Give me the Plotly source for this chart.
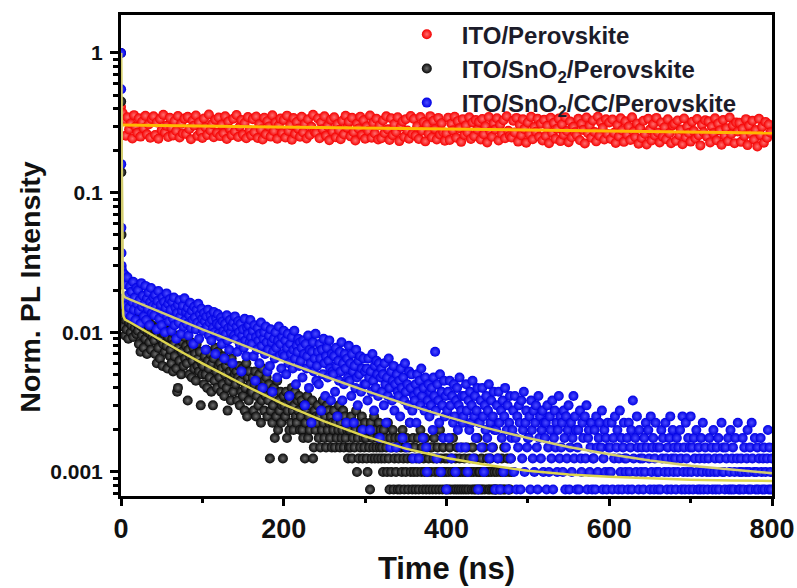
import numpy as np
import plotly.graph_objects as go

# ---------------- data ----------------
# value of one photon count after normalisation
count_unit = 1 / 4000

# ITO/SnO2/CC/Perovskite (blue): instrument peak + counts for t = 1..800 ns (1 ns step)
blue_peak_t = [0, 0.15, 0.3, 0.45, 0.6, 0.8]
blue_peak = [1.0, 0.55, 0.16, 0.056, 0.037, 0.030]
blue_counts = [
    112, 95, 70, 104, 62, 88, 55, 99, 74, 60, 85, 52, 78, 66, 92, 58, 71, 49, 83, 64,
    80, 57, 68, 46, 90, 61, 73, 52, 64, 86, 49, 70, 59, 77, 45, 66, 83, 55, 62, 71,
    53, 74, 61, 42, 67, 79, 50, 58, 63, 45, 71, 55, 66, 40, 60, 76, 52, 64, 48, 69,
    58, 41, 66, 50, 71, 45, 60, 36, 55, 63, 47, 68, 52, 39, 57, 62, 44, 70, 49, 56,
    46, 60, 38, 53, 65, 43, 57, 49, 33, 61, 51, 42, 58, 47, 64, 36, 54, 45, 59, 50,
    41, 55, 48, 30, 52, 44, 58, 38, 47, 53, 35, 49, 43, 56, 40, 28, 50, 46, 54, 39,
    45, 37, 51, 33, 48, 41, 26, 46, 39, 53, 35, 43, 30, 49, 40, 44, 24, 47, 38, 52,
    36, 44, 29, 48, 40, 33, 46, 21, 38, 42, 31, 50, 35, 27, 43, 39, 45, 34, 49, 37,
    33, 41, 27, 45, 18, 37, 30, 43, 35, 24, 39, 47, 32, 16, 36, 40, 28, 44, 34, 21,
    30, 38, 23, 42, 34, 15, 29, 36, 26, 40, 31, 19, 35, 44, 27, 33, 22, 37, 28, 41,
    27, 35, 20, 31, 39, 24, 14, 33, 28, 37, 22, 30, 41, 26, 17, 32, 29, 36, 23, 34,
    25, 31, 19, 35, 28, 12, 33, 22, 27, 38, 16, 30, 24, 9, 29, 34, 21, 26, 39, 18,
    23, 29, 17, 33, 26, 11, 30, 20, 36, 24, 14, 27, 31, 19, 25, 35, 22, 13, 28, 21,
    20, 27, 15, 31, 23, 10, 25, 18, 29, 21, 34, 13, 24, 17, 28, 22, 9, 26, 19, 32,
    18, 24, 14, 28, 21, 9, 23, 16, 30, 19, 12, 25, 20, 27, 15, 22, 8, 26, 17, 21,
    17, 22, 13, 26, 19, 8, 21, 15, 28, 18, 11, 23, 16, 25, 20, 14, 24, 7, 19, 22,
    15, 20, 12, 24, 17, 9, 19, 14, 26, 16, 6, 21, 13, 18, 23, 11, 17, 6, 20, 15,
    14, 18, 10, 22, 16, 7, 19, 13, 24, 15, 6, 17, 12, 21, 9, 16, 20, 11, 5, 14,
    13, 17, 9, 20, 15, 5, 18, 12, 22, 14, 7, 16, 11, 19, 6, 4, 13, 17, 10, 15,
    12, 16, 8, 19, 14, 29, 11, 5, 17, 13, 9, 20, 4, 15, 12, 7, 18, 10, 14, 3,
    11, 15, 7, 18, 12, 5, 14, 9, 17, 10, 4, 13, 16, 8, 12, 19, 6, 11, 14, 9,
    10, 14, 6, 17, 11, 4, 13, 8, 15, 9, 12, 18, 5, 10, 14, 7, 11, 16, 3, 9,
    9, 13, 6, 16, 10, 4, 12, 8, 14, 7, 11, 17, 5, 9, 13, 6, 10, 15, 8, 3,
    8, 12, 5, 15, 9, 3, 11, 7, 13, 4, 10, 16, 6, 8, 12, 3, 9, 14, 5, 7,
    8, 11, 4, 14, 7, 3, 10, 6, 12, 9, 3, 13, 5, 8, 15, 4, 9, 11, 6, 7,
    7, 10, 3, 13, 8, 5, 11, 4, 9, 12, 6, 3, 14, 7, 10, 5, 8, 11, 4, 9,
    7, 9, 3, 12, 6, 4, 10, 8, 5, 13, 3, 7, 11, 6, 9, 4, 8, 14, 5, 10,
    6, 9, 4, 11, 7, 3, 10, 5, 8, 12, 3, 6, 9, 4, 7, 14, 5, 10, 8, 3,
    6, 8, 3, 11, 5, 4, 9, 7, 2, 10, 5, 12, 3, 7, 8, 4, 6, 9, 3, 5,
    5, 8, 3, 10, 6, 4, 7, 9, 2, 6, 11, 3, 5, 8, 4, 7, 3, 9, 6, 4,
    6, 4, 9, 3, 7, 5, 10, 2, 6, 8, 3, 5, 11, 4, 7, 3, 6, 9, 5, 4,
    5, 7, 3, 9, 4, 6, 8, 3, 13, 5, 2, 7, 4, 10, 6, 3, 8, 5, 4, 6,
    5, 3, 7, 4, 9, 6, 2, 8, 5, 3, 10, 4, 6, 7, 3, 5, 9, 4, 6, 3,
    4, 6, 3, 8, 5, 7, 2, 4, 9, 5, 3, 6, 4, 7, 10, 3, 5, 8, 4, 6,
    5, 3, 7, 4, 6, 2, 8, 5, 3, 10, 4, 6, 3, 9, 5, 4, 7, 3, 6, 10,
    4, 6, 3, 7, 5, 2, 8, 4, 3, 6, 5, 3, 7, 4, 9, 3, 5, 6, 2, 4,
    3, 5, 7, 4, 2, 6, 3, 8, 4, 5, 3, 6, 4, 7, 3, 5, 2, 9, 4, 6,
    4, 3, 6, 5, 2, 7, 3, 4, 8, 3, 5, 6, 3, 4, 7, 2, 5, 9, 3, 4,
    3, 5, 4, 7, 3, 6, 2, 4, 5, 8, 3, 4, 6, 3, 9, 5, 2, 4, 7, 3,
    4, 6, 3, 5, 2, 7, 4, 3, 5, 6, 3, 4, 2, 5, 8, 3, 6, 4, 3, 5,
]

# ITO/SnO2/Perovskite (black): instrument peak + counts for t = 1..480 ns (1 ns step)
black_peak_t = [0, 0.2, 0.4, 0.6, 0.8]
black_peak = [1.0, 0.45, 0.14, 0.05, 0.022]
black_counts = [
    60, 52, 44, 55, 38, 49, 42, 57, 36, 47, 51, 40, 45, 53, 37, 48, 43, 50, 39, 46,
    41, 33, 47, 29, 44, 38, 50, 31, 42, 36, 46, 28, 40, 48, 34, 39, 30, 45, 37, 43,
    35, 28, 42, 24, 38, 31, 45, 26, 36, 40, 23, 33, 39, 29, 44, 32, 22, 37, 41, 27,
    30, 24, 36, 21, 33, 27, 38, 22, 15, 16, 31, 25, 35, 20, 29, 34, 23, 37, 26, 32,
    24, 13, 30, 20, 27, 34, 19, 25, 31, 22, 28, 18, 33, 23, 26, 21, 29, 12, 24, 20,
    23, 17, 27, 20, 30, 16, 25, 22, 19, 28, 15, 24, 12, 26, 18, 31, 21, 16, 29, 23,
    19, 24, 15, 22, 17, 27, 14, 20, 23, 16, 11, 25, 18, 21, 13, 26, 19, 15, 22, 20,
    17, 21, 13, 19, 23, 12, 18, 15, 22, 14, 20, 11, 16, 24, 10, 19, 13, 21, 17, 15,
    15, 19, 11, 17, 21, 10, 14, 18, 12, 20, 16, 9, 13, 22, 15, 11, 18, 14, 19, 10,
    13, 17, 5, 11, 15, 9, 12, 16, 7, 14, 10, 18, 8, 13, 11, 15, 9, 12, 5, 14,
    12, 10, 15, 7, 11, 14, 8, 13, 9, 16, 11, 8, 12, 15, 10, 9, 13, 11, 14, 8,
    10, 13, 8, 7, 12, 5, 9, 11, 14, 7, 10, 8, 12, 9, 13, 5, 6, 11, 8, 10,
    9, 12, 7, 10, 6, 11, 8, 13, 9, 7, 10, 6, 12, 8, 11, 9, 7, 10, 6, 9,
    8, 11, 6, 9, 7, 10, 8, 12, 6, 9, 7, 8, 11, 6, 10, 7, 9, 8, 5, 6,
    8, 6, 10, 5, 7, 9, 6, 8, 11, 4, 7, 5, 9, 6, 8, 10, 5, 7, 6, 9,
    7, 5, 4, 8, 6, 3, 9, 5, 7, 6, 10, 5, 8, 6, 7, 5, 9, 6, 8, 5,
    6, 4, 8, 5, 7, 6, 4, 9, 5, 3, 7, 4, 6, 8, 3, 5, 7, 4, 6, 3,
    5, 7, 3, 6, 4, 8, 5, 3, 6, 4, 7, 5, 3, 6, 9, 4, 5, 3, 7, 4,
    6, 3, 5, 4, 7, 3, 5, 8, 4, 6, 3, 5, 4, 7, 3, 6, 4, 5, 3, 6,
    4, 6, 3, 5, 7, 4, 3, 5, 6, 4, 3, 8, 5, 4, 3, 6, 4, 5, 3, 4,
    5, 3, 4, 6, 3, 5, 4, 7, 3, 4, 5, 3, 6, 4, 3, 5, 4, 3, 6, 4,
    3, 5, 4, 3, 6, 4, 3, 5, 2, 4, 3, 6, 4, 3, 5, 3, 4, 7, 3, 4,
    4, 3, 5, 3, 4, 6, 3, 2, 4, 5, 3, 4, 3, 5, 4, 3, 6, 3, 4, 3,
    3, 4, 5, 3, 2, 4, 3, 5, 4, 3, 6, 3, 4, 2, 5, 3, 4, 3, 5, 4,
]

# ITO/Perovskite (red): normalised intensity in per-mille, t = 0..798 ns (2 ns step)
red_permille = [
    410, 372, 331, 256, 347, 284, 313, 244, 359, 296, 268, 341, 252, 322, 289, 355, 262, 308, 247, 336,
    352, 259, 318, 243, 337, 281, 361, 270, 301, 250, 344, 292, 257, 326, 276, 354, 248, 311, 265, 339,
    263, 349, 286, 241, 327, 302, 357, 255, 318, 272, 246, 340, 294, 259, 363, 279, 310, 249, 333, 268,
    345, 254, 307, 266, 352, 242, 323, 285, 258, 338, 274, 360, 250, 297, 331, 261, 315, 245, 348, 280,
    257, 336, 271, 351, 246, 309, 283, 240, 344, 262, 325, 298, 252, 358, 276, 318, 243, 303, 339, 267,
    331, 248, 356, 277, 305, 239, 342, 264, 320, 287, 251, 349, 270, 311, 244, 335, 259, 296, 361, 273,
    268, 340, 245, 318, 285, 352, 256, 300, 237, 333, 274, 346, 249, 309, 281, 241, 327, 262, 355, 292,
    322, 253, 344, 271, 236, 312, 288, 350, 259, 330, 243, 298, 276, 357, 247, 316, 265, 338, 240, 304,
    245, 329, 267, 352, 284, 238, 341, 258, 310, 272, 347, 234, 296, 323, 251, 336, 279, 243, 354, 263,
    337, 256, 299, 242, 348, 278, 320, 233, 306, 265, 353, 249, 327, 285, 240, 343, 261, 314, 271, 235,
    266, 344, 238, 312, 279, 350, 247, 325, 289, 231, 336, 259, 303, 270, 346, 242, 318, 254, 331, 283,
    321, 240, 337, 262, 299, 229, 348, 274, 251, 314, 283, 341, 236, 307, 264, 330, 245, 352, 277, 256,
    248, 327, 270, 343, 232, 306, 258, 335, 286, 228, 318, 263, 349, 241, 295, 273, 338, 251, 311, 236,
    332, 255, 301, 226, 344, 268, 316, 243, 287, 339, 234, 309, 260, 347, 276, 230, 323, 249, 296, 271,
    259, 338, 237, 312, 281, 225, 345, 266, 302, 247, 329, 272, 233, 350, 255, 318, 290, 240, 335, 263,
    318, 242, 334, 268, 227, 305, 253, 341, 280, 231, 324, 261, 298, 238, 346, 274, 250, 313, 224, 290,
    246, 327, 264, 221, 338, 283, 236, 309, 257, 343, 270, 229, 318, 252, 294, 241, 335, 266, 226, 303,
    311, 235, 329, 259, 283, 222, 340, 249, 297, 267, 232, 322, 276, 244, 337, 258, 218, 306, 271, 330,
    252, 324, 229, 298, 266, 341, 237, 313, 279, 220, 331, 256, 289, 234, 345, 263, 303, 226, 318, 274,
    316, 231, 287, 255, 336, 219, 302, 264, 327, 240, 281, 214, 338, 258, 296, 228, 321, 247, 308, 270,
]

# fitted decay curves
fit_t = [0, 0.5, 1, 1.5, 2, 3, 5, 10, 25, 50, 75, 100, 150, 200, 250, 300, 350,
         400, 450, 500, 550, 600, 650, 700, 750, 800]
blue_fit = [1.0, 0.3, 0.09, 0.035, 0.022, 0.0185, 0.0178, 0.0173, 0.0159, 0.0139,
            0.0121, 0.0105, 0.0081, 0.0062, 0.00485, 0.00382, 0.00306, 0.00249,
            0.00206, 0.00175, 0.00151, 0.00134, 0.00121, 0.00111, 0.00104, 0.00098]
black_fit = [1.0, 0.2, 0.06, 0.025, 0.016, 0.013, 0.01235, 0.0119, 0.01058, 0.00873,
             0.0072, 0.0060, 0.00423, 0.00305, 0.0023, 0.0018, 0.00147, 0.00126,
             0.00112, 0.00102, 0.00096, 0.000925, 0.0009, 0.00088, 0.00087, 0.000863]
red_fit_t = [0, 100, 200, 300, 400, 500, 600, 700, 800]
red_fit = [0.305, 0.300, 0.295, 0.290, 0.285, 0.280, 0.276, 0.271, 0.267]

x_ticks = [0, 200, 400, 600, 800]
y_ticks = [0.001, 0.01, 0.1, 1]
y_tick_text = ["0.001", "0.01", "0.1", "1"]

# ---------------- build series ----------------
blue_x = list(blue_peak_t) + list(np.arange(1, len(blue_counts) + 1))
blue_y = list(blue_peak) + list(np.array(blue_counts) * count_unit)
black_x = list(black_peak_t) + list(np.arange(1, len(black_counts) + 1))
black_y = list(black_peak) + list(np.array(black_counts) * count_unit)
red_x = list(np.arange(0, 2 * len(red_permille), 2))
red_y = list(np.array(red_permille) / 1000)

fig = go.Figure()
fig.add_trace(go.Scatter(
    x=red_x, y=red_y, mode="markers", name="ITO/Perovskite",
    marker=dict(size=10, color="#f40000", line=dict(width=0),
                gradient=dict(type="radial", color="#ff7070"))))
fig.add_trace(go.Scatter(
    x=black_x, y=black_y, mode="markers", name="ITO/SnO<sub>2</sub>/Perovskite",
    marker=dict(size=10, color="#080808", line=dict(width=0),
                gradient=dict(type="radial", color="#6e6e6e"))))
fig.add_trace(go.Scatter(
    x=blue_x, y=blue_y, mode="markers", name="ITO/SnO<sub>2</sub>/CC/Perovskite",
    marker=dict(size=10, color="#0000e4", line=dict(width=0),
                gradient=dict(type="radial", color="#4c4cff"))))

fig.add_trace(go.Scatter(x=red_fit_t, y=red_fit, mode="lines", showlegend=False,
                         line=dict(color="#ffb800", width=3)))
fig.add_trace(go.Scatter(x=fit_t, y=black_fit, mode="lines", showlegend=False,
                         line=dict(color="#ddd54e", width=2.5)))
fig.add_trace(go.Scatter(x=fit_t, y=blue_fit, mode="lines", showlegend=False,
                         line=dict(color="#d2cc70", width=2.5)))

axis_common = dict(showline=True, linecolor="black", linewidth=3, mirror=True,
                   showgrid=False, zeroline=False, ticks="outside",
                   tickcolor="black", tickwidth=3, automargin=False)

fig.update_xaxes(
    range=[0, 800], tickvals=x_ticks, ticklen=7, ticklabeloverflow="allow",
    minor=dict(tickvals=[100, 300, 500, 700], ticks="outside", ticklen=4,
               tickwidth=3, tickcolor="black"),
    tickfont=dict(family="Liberation Sans", size=27, weight="bold", color="#111111"),
    title=dict(text="Time (ns)", standoff=14,
               font=dict(family="Liberation Sans", size=31, weight="bold",
                         color="#111111")),
    **axis_common)

fig.update_yaxes(
    type="log", range=[-3.172, 0.272], tickvals=y_ticks, ticktext=y_tick_text,
    ticklen=8, ticklabelstandoff=3,
    minor=dict(tickvals=[0.0007, 0.0008, 0.0009,
                         0.002, 0.003, 0.004, 0.005, 0.006, 0.007, 0.008, 0.009,
                         0.02, 0.03, 0.04, 0.05, 0.06, 0.07, 0.08, 0.09,
                         0.2, 0.3, 0.4, 0.5, 0.6, 0.7, 0.8, 0.9],
               ticks="outside", ticklen=5, tickwidth=3, tickcolor="black"),
    tickfont=dict(family="Liberation Sans", size=21, weight="bold", color="#111111"),
    **axis_common)

fig.add_annotation(
    text="Norm. PL Intensity", textangle=-90, showarrow=False,
    xref="paper", yref="paper", x=-0.14, y=0.435, xanchor="center", yanchor="middle",
    font=dict(family="Liberation Sans", size=28.5, weight="bold", color="#111111"))

fig.update_layout(
    width=797, height=588,
    margin=dict(l=121, r=25, t=15, b=92),
    plot_bgcolor="white", paper_bgcolor="white",
    legend=dict(x=0.416, y=1.006, xanchor="left", yanchor="top",
                bgcolor="rgba(0,0,0,0)", tracegroupgap=0, itemwidth=60,
                font=dict(family="Liberation Sans", size=24, weight="bold",
                          color="#1c1c2a")),
)

fig.write_html("out.html")
